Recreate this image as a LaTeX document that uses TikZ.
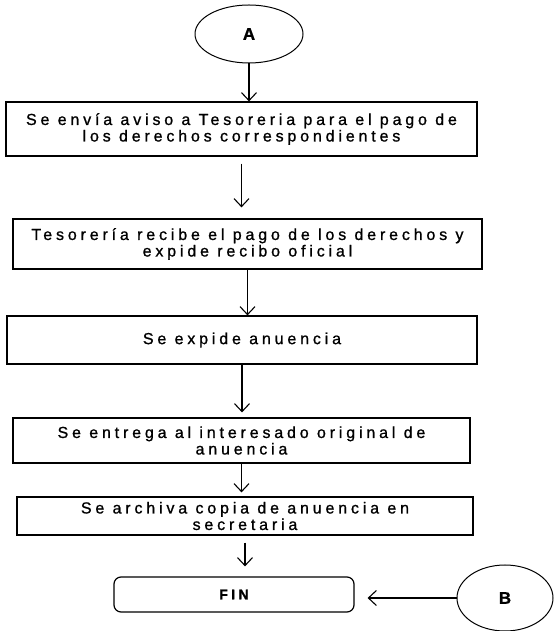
\documentclass[tikz,border=0pt]{standalone}
\usepackage{fontspec}
\setmainfont{Liberation Sans}
\newfontfamily\espaciada[LetterSpace=24, FakeBold=1]{Liberation Sans}
\usetikzlibrary{shapes.geometric, arrows.meta}

\begin{document}
\begin{tikzpicture}[x = 1pt, y = 1pt, > = {Straight Barb[length = 8pt, width = 15pt]},
	paso/.style = {draw, line width = 1.2pt, rectangle, align = center, inner sep = 0pt, font = \fontsize{16}{16.5}\espaciada},
	conector/.style = {draw, line width = 1pt, ellipse, inner sep = 0pt, font = \fontsize{17}{17}\espaciada\bfseries},
	flecha/.style = {->, line width = 1.1pt}]

	\useasboundingbox (0, 0) rectangle (555, 631);

	% Connectors

	\node [conector, minimum width = 108, minimum height = 58] (A) at (249, 597) {A};
	\node [conector, minimum width = 96, minimum height = 66] (B) at (505, 33) {B};

	% Steps

	\node [paso, minimum width = 471, minimum height = 54] (aviso) at (241.5, 502) {Se envía aviso a Tesoreria para el pago de\\los derechos correspondientes};
	\node [paso, minimum width = 469, minimum height = 50] (pago) at (247.5, 387) {Tesorería recibe el pago de los derechos y\\expide recibo oficial};
	\node [paso, minimum width = 470, minimum height = 48] (expide) at (242, 291) {Se expide anuencia};
	\node [paso, minimum width = 457, minimum height = 45] (entrega) at (241.5, 190.5) {Se entrega al interesado original de\\anuencia};
	\node [paso, minimum width = 456, minimum height = 38] (archiva) at (245, 115) {Se archiva copia de anuencia en\\secretaria};
	\node [paso, rounded corners = 7pt, minimum width = 240, minimum height = 35, font = \fontsize{14}{14}\espaciada\bfseries] (fin) at (234, 36.5) {FIN};

	% Arrows

	\draw [flecha] (A) -- (A |- aviso.north);
	\draw [flecha, shorten <= 7pt, shorten >= 11pt] (aviso.south) -- (aviso.south |- pago.north);
	\draw [flecha] (pago.south) -- (pago.south |- expide.north);
	\draw [flecha, shorten >= 5pt] (expide.south) -- (expide.south |- entrega.north);
	\draw [flecha, shorten >= 4pt] (entrega.south) -- (entrega.south |- archiva.north);
	\draw [flecha, shorten <= 7pt, shorten >= 10pt] (archiva.south) -- (archiva.south |- fin.north);
	\draw [flecha, shorten >= 13pt] (B.west) -- (B.west -| fin.east);

\end{tikzpicture}
\end{document}
